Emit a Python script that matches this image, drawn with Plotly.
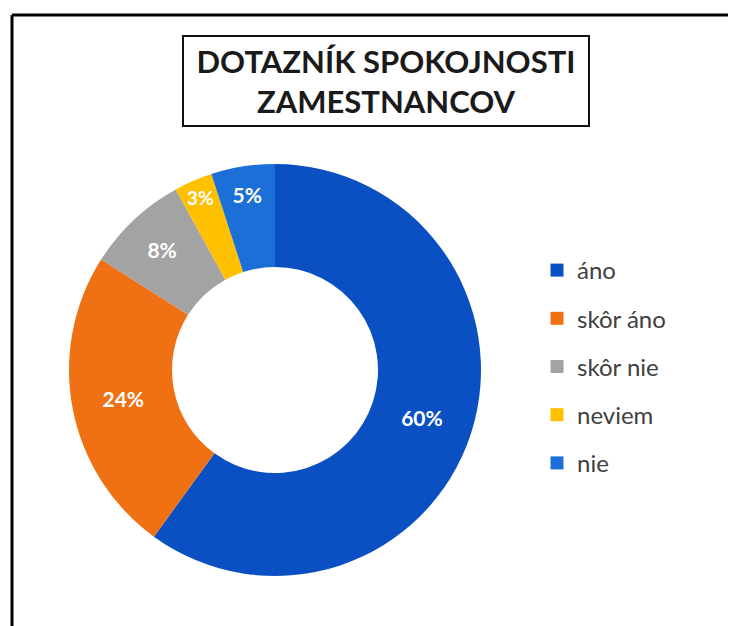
import plotly.graph_objects as go

labels = ["áno", "skôr áno", "skôr nie", "neviem", "nie"]
values = [60, 24, 8, 3, 5]
colors = ["#0B50C2", "#F07114", "#A3A3A3", "#FFC000", "#1C6FD6"]
title_lines = ["DOTAZNÍK SPOKOJNOSTI", "ZAMESTNANCOV"]

# page has an 8px body margin: figure sized to fit and positions offset by 8px
OFF = 8
W, H = 736 - OFF, 626 - OFF


def px(x):
    return (x - OFF) / W


def py(y):
    return 1 - (y - OFF) / H


fig = go.Figure()
fig.add_trace(go.Pie(
    labels=labels, values=values, sort=False, direction="clockwise", rotation=0,
    hole=0.5, marker=dict(colors=colors, line=dict(width=0)),
    textinfo="percent", textposition="inside", insidetextorientation="horizontal",
    textfont=dict(family="Lato", size=21, color="white", weight="bold"),
    showlegend=False, hoverinfo="label+percent",
    domain=dict(x=[px(67), px(483)], y=[py(576), py(164)]),
))

for lab, col in zip(labels, colors):
    fig.add_trace(go.Scatter(
        x=[None], y=[None], mode="markers", name=lab, legendgroup=lab,
        marker=dict(symbol="square", size=13, color=col),
        showlegend=True,
    ))

fig.update_layout(
    width=W, height=H, margin=dict(l=0, r=0, t=0, b=0),
    paper_bgcolor="white", plot_bgcolor="white",
    xaxis=dict(visible=False), yaxis=dict(visible=False),
    legend=dict(x=px(537), y=py(248), xanchor="left", yanchor="top",
                font=dict(family="Lato", size=24, color="#404040"),
                tracegroupgap=14, itemwidth=30, bgcolor="rgba(0,0,0,0)"),
    annotations=[dict(
        text="<br>".join(f"<b>{t}</b>" for t in title_lines),
        x=px(386), y=py(81), xref="paper", yref="paper",
        xanchor="center", yanchor="middle", showarrow=False,
        font=dict(family="Lato", size=31, color="#1a1a1a"),
        bordercolor="#111111", borderwidth=2, borderpad=0,
        width=404, height=88, bgcolor="white",
    )],
    shapes=[
        dict(type="line", xref="paper", yref="paper", x0=px(12), x1=1.02, y0=py(15), y1=py(15),
             line=dict(color="black", width=3)),
        dict(type="line", xref="paper", yref="paper", x0=px(12), x1=px(12), y0=py(15), y1=-0.02,
             line=dict(color="black", width=3)),
    ],
)

fig.write_html("out.html")
